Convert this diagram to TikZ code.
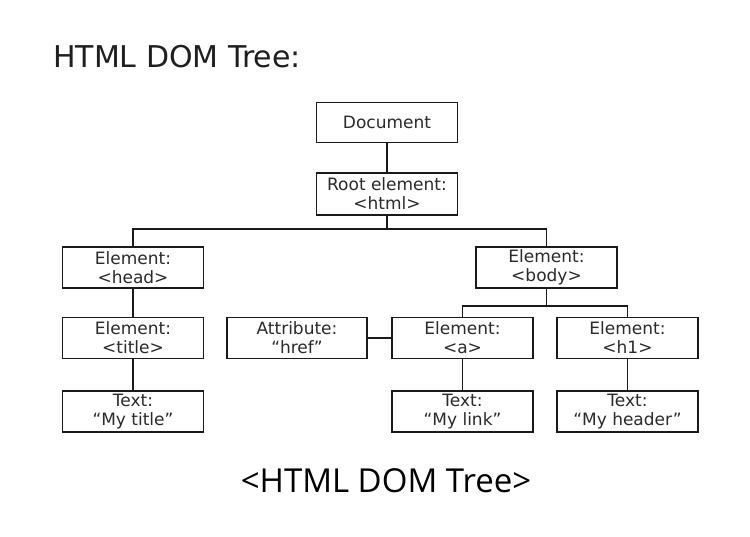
\documentclass[tikz,border=0pt]{standalone}
\usepackage{fontspec}
\setmainfont{DejaVu Sans}
\newfontfamily\capfont{Open Sans}
\definecolor{boxline}{HTML}{1A1A1A}
\definecolor{boxtext}{HTML}{2A2A2A}
\begin{document}
\begin{tikzpicture}[x=1pt,y=-1pt,
  dombox/.style={draw=boxline,line width=1.2pt,minimum width=141pt,minimum height=41pt,
    inner sep=0pt,align=center,text=boxtext,font=\fontsize{17}{19}\selectfont},
  link/.style={draw=boxline,line width=1.2pt}]
\useasboundingbox[fill=white] (0,0) rectangle (750,536);
\node[anchor=base west,text=black!88,font=\fontsize{30}{34}\selectfont,inner sep=0pt] (heading) at (53,67) {HTML DOM Tree:};
\node[dombox,minimum height=40pt] (doc) at (387,122.5) {Document};
\node[dombox,minimum height=42pt] (root) at (387,194) {Root element:\\<html>};
\node[dombox] (head) at (133,267.5) {Element:\\<head>};
\node[dombox] (body) at (546.5,267.5) {Element:\\<body>};
\node[dombox] (title) at (133,338) {Element:\\<title>};
\node[dombox,minimum width=140pt] (attr) at (297,338) {Attribute:\\“href”};
\node[dombox] (a) at (462.5,338) {Element:\\<a>};
\node[dombox] (h1) at (627.5,338) {Element:\\<h1>};
\node[dombox] (ttitle) at (133,411.5) {Text:\\“My title”};
\node[dombox] (tlink) at (462.5,411.5) {Text:\\“My link”};
\node[dombox] (theader) at (627.5,411.5) {Text:\\“My header”};
\coordinate (j1) at (387,229);
\coordinate (j2) at (546.5,306);
\draw[link] (doc.south) -- (root.north);
\draw[link] (root.south) -- (j1) -| (head.north);
\draw[link] (j1) -| (body.north);
\draw[link] (body.south) -- (j2) -| (a.north);
\draw[link] (j2) -| (h1.north);
\draw[link] (head.south) -- (title.north);
\draw[link] (title.south) -- (ttitle.north);
\draw[link] (a.south) -- (tlink.north);
\draw[link] (h1.south) -- (theader.north);
\draw[link] (attr.east) -- (a.west);
\node[anchor=base,font=\capfont\fontsize{33}{38}\selectfont,inner sep=0pt] (caption) at (386,492) {<HTML DOM Tree>};
\end{tikzpicture}
\end{document}
